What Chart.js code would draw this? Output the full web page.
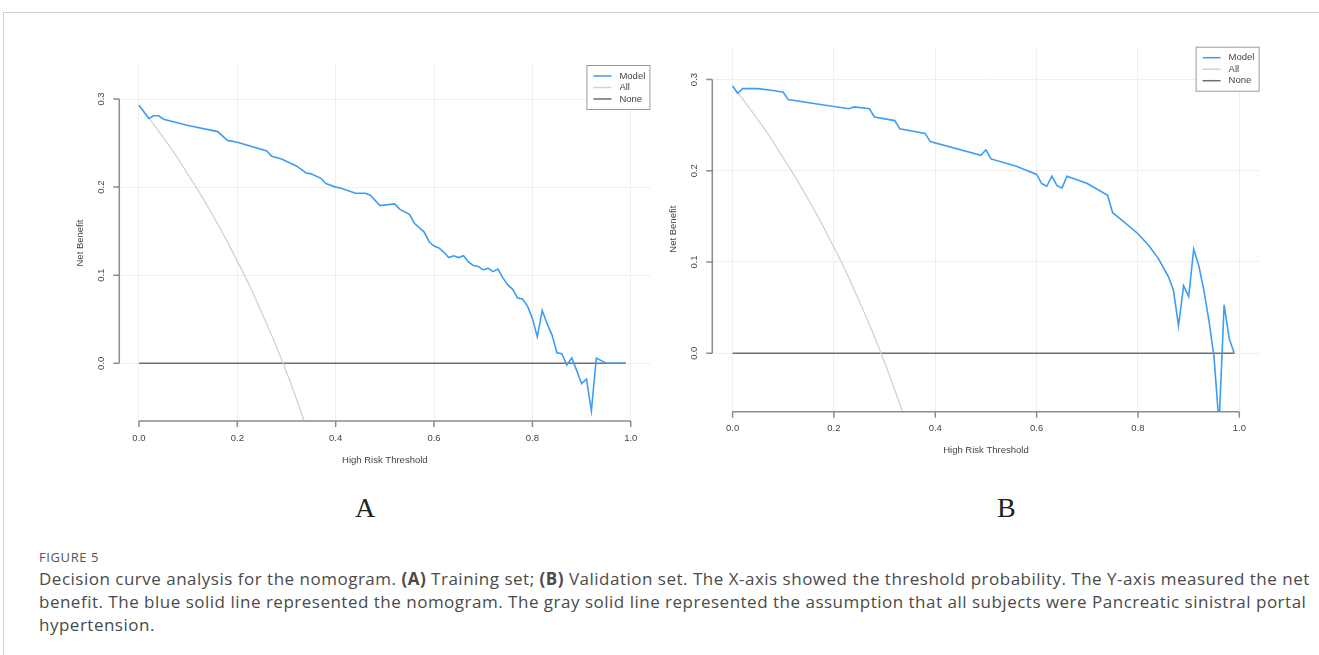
<!DOCTYPE html>
<html>
<head>
<meta charset="utf-8">
<script src="https://cdn.jsdelivr.net/npm/chart.js@4.4.0/dist/chart.umd.min.js"></script>
<style>
    body { margin: 0; background: #fff; width: 1319px; height: 655px; overflow: hidden; position: relative; font-family: 'Open Sans', sans-serif; }
    .frame { position: absolute; left: 3px; top: 12px; right: -2px; bottom: -2px; border-top: 1px solid #cfcfcf; border-left: 1px solid #cfcfcf; }
    .panel { position: absolute; }
    #wrapA { left: 60px; top: 40px; width: 600px; height: 435px; }
    #wrapB { left: 660px; top: 20px; width: 620px; height: 445px; }
    .tag { position: absolute; top: 490px; font-family: 'Liberation Serif', serif; font-size: 28px; color: #222; line-height: 36px; }
    .figno { position: absolute; left: 39px; top: 549px; font-size: 13px; letter-spacing: 0.6px; color: #555; line-height: 16px; }
    .caption { position: absolute; left: 39px; top: 567px; font-size: 17px; letter-spacing: 0.5px; color: #4a4a4a; line-height: 23px; white-space: nowrap; }
</style>
</head>
<body>
<div class="frame"></div>
<div class="panel" id="wrapA"><canvas id="chartA"></canvas></div>
<div class="panel" id="wrapB"><canvas id="chartB"></canvas></div>
<div class="tag" style="left:355px">A</div>
<div class="tag" style="left:997px">B</div>
<div class="figno">FIGURE 5</div>
<div class="caption">
    Decision curve analysis for the nomogram. <b>(A)</b> Training set; <b>(B)</b> Validation set. The X-axis showed the threshold probability. The Y-axis measured the net<br>
    benefit. The blue solid line represented the nomogram. The gray solid line represented the assumption that all subjects were Pancreatic sinistral portal<br>
    hypertension.
</div>
<script>
// ticks and legend
const xTicks = [0, 0.2, 0.4, 0.6, 0.8, 1.0];
const yTicks = [0, 0.1, 0.2, 0.3];
const seriesNames = ['Model', 'All', 'None'];

// training set (A) - model curve
const thresholdsA = [0, 0.02, 0.03, 0.04, 0.05, 0.1, 0.16, 0.18, 0.2, 0.26, 0.27, 0.29, 0.32, 0.34, 0.35, 0.37, 0.38, 0.4, 0.41,
    0.44, 0.46, 0.47, 0.49, 0.52, 0.53, 0.55, 0.56, 0.58, 0.59, 0.6, 0.61, 0.62, 0.63, 0.64, 0.65, 0.66, 0.67, 0.68, 0.69,
    0.7, 0.71, 0.72, 0.73, 0.74, 0.75, 0.76, 0.77, 0.78, 0.79, 0.8, 0.81, 0.82, 0.83, 0.84, 0.85, 0.86, 0.87, 0.88, 0.89,
    0.9, 0.91, 0.92, 0.93, 0.94, 0.95, 0.99];
const modelA = [0.293, 0.278, 0.281, 0.281, 0.277, 0.270, 0.263, 0.253, 0.251, 0.241, 0.235, 0.232, 0.224, 0.216, 0.215, 0.210, 0.204, 0.200, 0.199,
    0.193, 0.193, 0.191, 0.179, 0.181, 0.175, 0.169, 0.159, 0.149, 0.138, 0.133, 0.131, 0.126, 0.120, 0.122, 0.120, 0.122, 0.115, 0.111, 0.110,
    0.106, 0.108, 0.104, 0.107, 0.097, 0.089, 0.084, 0.074, 0.073, 0.065, 0.051, 0.030, 0.060, 0.045, 0.032, 0.012, 0.011, -0.002, 0.006, -0.008,
    -0.023, -0.018, -0.054, 0.006, 0.003, 0.000, 0.000];

// validation set (B) - model curve
const thresholdsB = [0, 0.01, 0.02, 0.03, 0.05, 0.08, 0.1, 0.11, 0.17, 0.23, 0.24, 0.27, 0.28, 0.32, 0.33, 0.38, 0.39, 0.49, 0.5, 0.51,
    0.56, 0.6, 0.61, 0.62, 0.63, 0.64, 0.65, 0.66, 0.7, 0.74, 0.75, 0.77, 0.8, 0.82, 0.84, 0.86, 0.87, 0.88, 0.89, 0.9,
    0.91, 0.92, 0.93, 0.94, 0.95, 0.96, 0.97, 0.98, 0.99];
const modelB = [0.293, 0.285, 0.290, 0.290, 0.290, 0.288, 0.286, 0.278, 0.273, 0.268, 0.270, 0.268, 0.259, 0.255, 0.246, 0.241, 0.232, 0.217, 0.223, 0.213,
    0.205, 0.196, 0.186, 0.183, 0.194, 0.184, 0.181, 0.194, 0.186, 0.173, 0.154, 0.145, 0.131, 0.119, 0.104, 0.084, 0.069, 0.030, 0.074, 0.062,
    0.114, 0.096, 0.069, 0.036, -0.004, -0.078, 0.053, 0.016, 0.000];

// treat-all curve (same for both panels)
const allThresholds = [0, 0.025, 0.05, 0.075, 0.1, 0.125, 0.15, 0.175, 0.2, 0.225, 0.25, 0.275, 0.3, 0.325, 0.35];
const allA = [0.293, 0.275, 0.256, 0.236, 0.214, 0.192, 0.168, 0.143, 0.116, 0.088, 0.057, 0.025, -0.010, -0.048, -0.088];
const allB = [0.293, 0.275, 0.256, 0.236, 0.214, 0.192, 0.168, 0.143, 0.116, 0.088, 0.057, 0.025, -0.010, -0.048, -0.088];

// treat-none line
const noneThresholds = [0, 0.99];
const noneValues = [0, 0];

const colors = ['#3d9df3', '#d2d2d2', '#6e6e6e'];
const axisColor = '#8c8c8c';
const textColor = '#444';
const smallFont = "9.5px 'Liberation Sans Narrow', 'Liberation Sans', sans-serif";

function pairs(xs, ys) {
    return xs.map((x, i) => ({ x: x, y: ys[i] }));
}

// R style axes, labels and legend
const rAxes = {
    id: 'rAxes',
    afterDraw(chart) {
        const ctx = chart.ctx;
        const area = chart.chartArea;
        const xs = chart.scales.x;
        const ys = chart.scales.y;
        ctx.save();
        ctx.strokeStyle = axisColor;
        ctx.lineWidth = 1.5;

        // y axis
        ctx.beginPath();
        ctx.moveTo(area.left, ys.getPixelForValue(yTicks[0]));
        ctx.lineTo(area.left, ys.getPixelForValue(yTicks[yTicks.length - 1]));
        yTicks.forEach(v => {
            const py = ys.getPixelForValue(v);
            ctx.moveTo(area.left - 6, py);
            ctx.lineTo(area.left, py);
        });
        ctx.stroke();

        // x axis
        ctx.beginPath();
        ctx.moveTo(xs.getPixelForValue(xTicks[0]), area.bottom);
        ctx.lineTo(xs.getPixelForValue(xTicks[xTicks.length - 1]), area.bottom);
        xTicks.forEach(v => {
            const px = xs.getPixelForValue(v);
            ctx.moveTo(px, area.bottom);
            ctx.lineTo(px, area.bottom + 6);
        });
        ctx.stroke();

        ctx.fillStyle = textColor;
        ctx.font = smallFont;
        ctx.textAlign = 'center';
        ctx.textBaseline = 'middle';
        xTicks.forEach(v => {
            ctx.fillText(v.toFixed(1), xs.getPixelForValue(v), area.bottom + 17);
        });
        ctx.fillText('High Risk Threshold', (area.left + area.right) / 2, area.bottom + 39);

        yTicks.forEach(v => {
            ctx.save();
            ctx.translate(area.left - 18, ys.getPixelForValue(v));
            ctx.rotate(-Math.PI / 2);
            ctx.fillText(v.toFixed(1), 0, 0);
            ctx.restore();
        });
        ctx.save();
        ctx.translate(area.left - 39, (area.top + area.bottom) / 2);
        ctx.rotate(-Math.PI / 2);
        ctx.fillText('Net Benefit', 0, 0);
        ctx.restore();

        // legend box in the top right corner
        const bw = 64, bh = 45;
        const bx = area.right - bw, by = area.top;
        ctx.fillStyle = '#fff';
        ctx.fillRect(bx, by, bw, bh);
        ctx.strokeStyle = '#9a9a9a';
        ctx.lineWidth = 1;
        ctx.strokeRect(bx + 0.5, by + 0.5, bw - 1, bh - 1);
        ctx.textAlign = 'left';
        seriesNames.forEach((name, i) => {
            const ly = by + 11 + i * 11.5;
            ctx.strokeStyle = colors[i];
            ctx.lineWidth = 1.5;
            ctx.beginPath();
            ctx.moveTo(bx + 7, ly);
            ctx.lineTo(bx + 25, ly);
            ctx.stroke();
            ctx.fillStyle = textColor;
            ctx.fillText(name, bx + 33, ly);
        });
        ctx.restore();
    }
};

function makeChart(canvasId, modelX, modelY, allY, yMin, yMax, pad) {
    return new Chart(document.getElementById(canvasId), {
        type: 'line',
        data: {
            datasets: [
                { label: seriesNames[0], data: pairs(modelX, modelY), borderColor: colors[0], borderWidth: 1.6 },
                { label: seriesNames[1], data: pairs(allThresholds, allY), borderColor: colors[1], borderWidth: 1.3, cubicInterpolationMode: 'monotone' },
                { label: seriesNames[2], data: pairs(noneThresholds, noneValues), borderColor: colors[2], borderWidth: 1.5 }
            ]
        },
        options: {
            responsive: true,
            maintainAspectRatio: false,
            animation: false,
            elements: { point: { radius: 0 } },
            layout: { padding: pad },
            plugins: { legend: { display: false }, tooltip: { enabled: false } },
            scales: {
                x: {
                    type: 'linear', min: -0.04, max: 1.04,
                    afterBuildTicks: scale => { scale.ticks = xTicks.map(v => ({ value: v })); },
                    ticks: { display: false },
                    border: { display: false },
                    grid: { color: '#efefef', lineWidth: 1, drawTicks: false }
                },
                y: {
                    type: 'linear', min: yMin, max: yMax,
                    afterBuildTicks: scale => { scale.ticks = yTicks.map(v => ({ value: v })); },
                    ticks: { display: false },
                    border: { display: false },
                    grid: { color: '#efefef', lineWidth: 1, drawTicks: false }
                }
            }
        },
        plugins: [rAxes]
    });
}

makeChart('chartA', thresholdsA, modelA, allA, -0.0655, 0.3386, { left: 59.3, right: 9.6, top: 25, bottom: 54 });
makeChart('chartB', thresholdsB, modelB, allB, -0.0641, 0.336, { left: 52.3, right: 20.4, top: 26.7, bottom: 53.3 });
</script>
</body>
</html>
